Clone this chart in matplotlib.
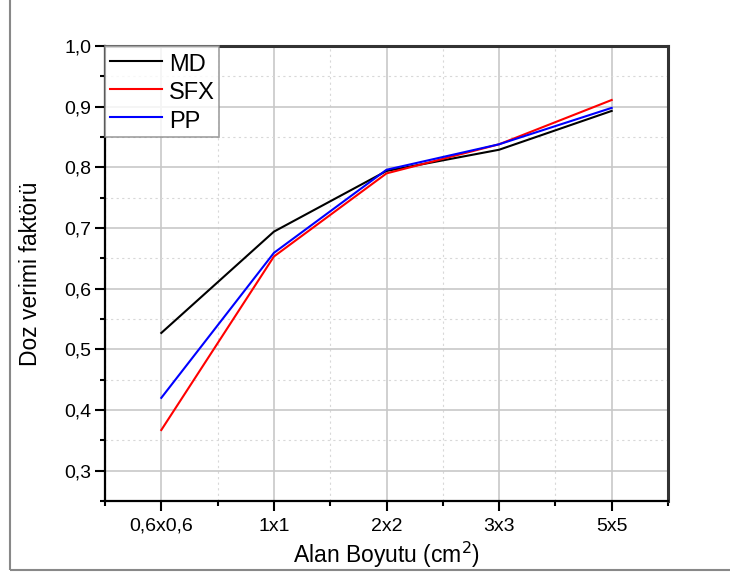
import matplotlib.pyplot as plt
from matplotlib.patches import Rectangle
from matplotlib.ticker import MultipleLocator, FuncFormatter

plt.rcParams['font.family'] = ['Liberation Sans', 'DejaVu Sans']

sizes = ['0,6x0,6', '1x1', '2x2', '3x3', '5x5']
md = [0.527, 0.694, 0.794, 0.829, 0.893]
sfx = [0.367, 0.653, 0.790, 0.838, 0.911]
pp = [0.420, 0.659, 0.796, 0.838, 0.898]

fig = plt.figure(figsize=(7.3, 5.76), dpi=100)
ax = fig.add_axes([105 / 730, 75 / 576, 563 / 730, 455 / 576])

# outer frame like the original export
fig.patches.append(Rectangle((10 / 730, 6 / 576), 0.995, 0.993, transform=fig.transFigure,
                             fill=False, edgecolor='#888888', linewidth=1.5))

x = range(len(sizes))
ax.plot(x, md, color='black', lw=1.5, label='MD')
ax.plot(x, sfx, color='red', lw=1.5, label='SFX')
ax.plot(x, pp, color='blue', lw=1.5, label='PP')

ax.set_xlim(-0.5, 4.5)
ax.set_ylim(0.25, 1.0)
ax.set_xticks(list(x))
ax.set_xticklabels(sizes)
ax.xaxis.set_minor_locator(MultipleLocator(0.5))
ax.yaxis.set_major_locator(MultipleLocator(0.1))
ax.yaxis.set_minor_locator(MultipleLocator(0.05))
ax.yaxis.set_major_formatter(FuncFormatter(lambda v, p: f'{v:.1f}'.replace('.', ',')))

ax.grid(which='major', color='#c8c8c8', linestyle='-', linewidth=1.2)
ax.grid(which='minor', color='#d8d8d8', linestyle=(0, (2, 3)), linewidth=0.8)
ax.set_axisbelow(True)

ax.tick_params(which='major', direction='out', length=7, width=1.5, labelsize=14, pad=3)
ax.tick_params(which='minor', direction='out', length=3.5, width=1.5)
ax.tick_params(axis='x', which='major', pad=5)

for s in ['left', 'bottom']:
    ax.spines[s].set_linewidth(1.6)
    ax.spines[s].set_color('black')
for s in ['top', 'right']:
    ax.spines[s].set_linewidth(2.2)
    ax.spines[s].set_color('#333333')

ax.set_xlabel('Alan Boyutu (cm$^2$)', fontsize=16.5, labelpad=4)
ax.set_ylabel('Doz verimi faktörü', fontsize=16.5, labelpad=16)

leg = ax.legend(loc='upper left', fontsize=17, frameon=True, fancybox=False,
                borderaxespad=0, handlelength=2.2, handletextpad=0.3,
                handleheight=1.25, borderpad=0.2, labelspacing=0.12)
leg.get_frame().set_edgecolor('#888888')
leg.get_frame().set_linewidth(1.2)

fig.savefig('out.png', dpi=100)
